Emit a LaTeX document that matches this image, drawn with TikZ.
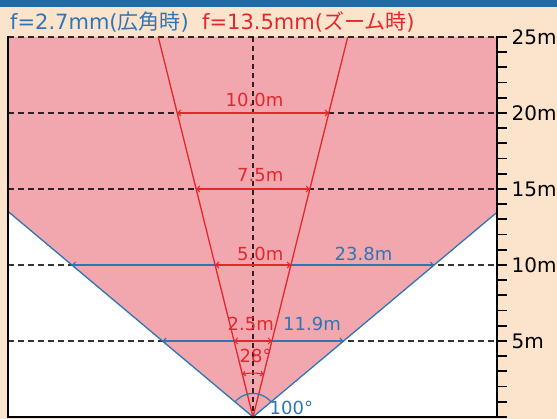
\documentclass[tikz,border=0pt]{standalone}
\usepackage{fontspec}
\setmainfont{DejaVu Sans}
\newfontfamily\jp{Noto Sans CJK JP}
\usetikzlibrary{arrows.meta,bending}
\definecolor{peach}{RGB}{252,228,204}
\definecolor{topbar}{RGB}{31,107,168}
\definecolor{pinkfill}{RGB}{242,167,174}
\definecolor{camred}{RGB}{228,38,45}
\definecolor{camblue}{RGB}{46,117,182}
\begin{document}
\begin{tikzpicture}[x=1pt,y=-1pt,
  guide/.style={black, line width=1.4pt, dash pattern=on 6pt off 4pt, opacity=0.8},
  redline/.style={camred, line width=1.3pt},
  blueline/.style={camblue, line width=1.3pt},
  barb/.tip={Straight Barb[length=3pt,width=6pt,line width=1pt]},
  redmeas/.style={camred, line width=1.1pt, barb-barb},
  bluemeas/.style={camblue, line width=1.1pt, barb-barb},
  lbl/.style={inner sep=0pt, font=\fontsize{18}{20}\selectfont},
  ttl/.style={inner sep=0pt, font=\fontsize{21}{24}\selectfont},
  ruler/.style={black, line width=2pt},
  tick/.style={black, line width=1.8pt}
]
\useasboundingbox (0,0) rectangle (557,419);
\fill[peach] (0,0) rectangle (557,419);
\fill[topbar] (0,0) rectangle (557,7);
\fill[white] (8,37) rectangle (497,417);
% key points
\coordinate (apex) at (253,417);
\coordinate (tl) at (8,37);
\coordinate (tr) at (497,37);
\coordinate (bl) at (8,211.4);
\coordinate (br) at (497,212.3);
\coordinate (rl) at (158.26,37);
\coordinate (rr) at (347.74,37);
\coordinate (ctop) at (253,37);
% wide-angle area
\fill[pinkfill] (tl) -- (bl) -- (apex) -- (br) -- (tr) -- cycle;
% distance guides
\foreach \d in {5,10,15,20,25}{
  \pgfmathsetmacro{\yy}{417-15.2*\d}
  \draw[guide] (8,\yy) -- (497,\yy);
}
\draw[guide, dash pattern=on 5pt off 4pt] (ctop) -- (apex);
% wide-angle lines
\draw[blueline] (bl) -- (apex) -- (br);
\coordinate (b10l) at (71.85,265); \coordinate (b10r) at (434.15,265);
\coordinate (b5l) at (162.43,341); \coordinate (b5r) at (343.57,341);
\draw[bluemeas] (b10l) -- (b10r);
\draw[bluemeas] (b5l) -- (b5r);
% tele lines
\draw[redline] (rl) -- (apex) -- (rr);
\coordinate (r20l) at (177.2,113); \coordinate (r20r) at (328.8,113);
\coordinate (r15l) at (196.15,189); \coordinate (r15r) at (309.85,189);
\coordinate (r10l) at (215.1,265); \coordinate (r10r) at (290.9,265);
\coordinate (r5l) at (234.05,341); \coordinate (r5r) at (271.95,341);
\draw[redmeas] (r20l) -- (r20r);
\draw[redmeas] (r15l) -- (r15r);
\draw[redmeas] (r10l) -- (r10r);
\draw[redmeas] (r5l) -- (r5r);
% angle arcs
\draw[camred, line width=1.1pt, {Straight Barb[length=2.5pt,width=5pt,line width=1pt,flex]}-{Straight Barb[length=2.5pt,width=5pt,line width=1pt,flex]}] (apex) ++(-76:44) arc[start angle=-76, end angle=-104, radius=44];
\draw[camblue, line width=1.2pt] (apex) ++(-40:23.5) arc[start angle=-40, end angle=-140, radius=23.5];
% labels
\node[lbl, text=camred, anchor=base east] (l10) at (283.5,107) {10.0m};
\node[lbl, text=camred, anchor=base east] (l75) at (283.5,182) {7.5m};
\node[lbl, text=camred, anchor=base east] (l50) at (283.5,261) {5.0m};
\node[lbl, text=camred, anchor=base west] (l25) at (227.5,331) {2.5m};
\node[lbl, text=camblue, anchor=base west] (l119) at (283,331) {11.9m};
\node[lbl, text=camblue, anchor=base west] (l238) at (334.5,261) {23.8m};
\node[lbl, text=camred, anchor=base west] (a28) at (239.5,363) {28°};
\node[lbl, text=camblue, anchor=base west] (a100) at (269.5,415) {100°};
% title
\node[ttl, text=camblue, anchor=base west] (t1) at (10,29.5) {f=2.7mm({\jp 広角時})};
\node[ttl, text=camred, anchor=base west] (t2) at (202,29.5) {f=13.5mm({\jp ズーム時})};
% frame
\draw[ruler] (8,36) -- (8,417) -- (507,417);
\draw[ruler] (497,36) -- (497,417);
\foreach \i in {0,...,25}{
  \pgfmathsetmacro{\yy}{417-15.2*\i}
  \draw[tick] (497,\yy) -- (507,\yy);
}
\foreach \d in {5,10,15,20,25}{
  \pgfmathsetmacro{\yy}{417-15.2*\d+7.5}
  \node[lbl, font=\fontsize{20}{22}\selectfont, anchor=base west] (m\d) at (511.5,\yy) {\d m};
}
\end{tikzpicture}
\end{document}
